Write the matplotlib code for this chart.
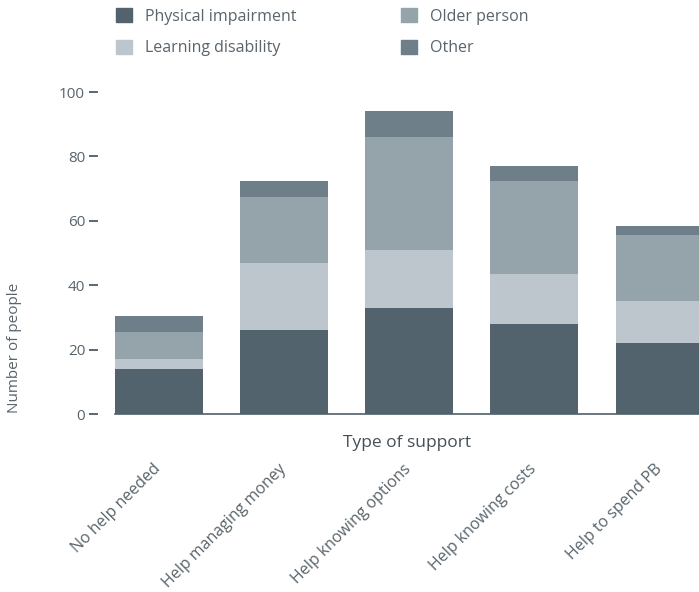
import numpy as np
import matplotlib
matplotlib.use("Agg")
import matplotlib.pyplot as plt
from matplotlib.patches import Patch

plt.rcParams['font.family'] = ['Open Sans', 'DejaVu Sans']

# data
support_types = ['No help needed', 'Help managing money', 'Help knowing options',
                 'Help knowing costs', 'Help to spend PB']
physical_impairment = [14, 26, 33, 28, 22]
learning_disability = [3, 21, 18, 15.5, 13]
older_person = [8.5, 20.5, 35, 29, 20.5]
other = [5, 5, 8, 4.5, 3]

series = [('Physical impairment', physical_impairment, '#52636e'),
          ('Learning disability', learning_disability, '#bcc6cc'),
          ('Older person', older_person, '#95a3ab'),
          ('Other', other, '#6f7f89')]

text_col = '#59646b'

fig = plt.figure(figsize=(6.99, 5.92), dpi=100)
ax = fig.add_axes([115 / 699, 178 / 592, 584 / 699, 322 / 592])

x = np.arange(len(support_types))
bottom = np.zeros(len(support_types))
for name, vals, col in series:
    ax.bar(x, vals, width=0.7, bottom=bottom, color=col, label=name, zorder=2)
    bottom += np.array(vals)

ax.set_xlim(-0.35, 4.316)
ax.set_ylim(0, 100)
ax.set_yticks([0, 20, 40, 60, 80, 100])

for s in ['top', 'right']:
    ax.spines[s].set_visible(False)
ax.spines['left'].set_position(('outward', 12))
ax.spines['left'].set_color('none')
ax.spines['bottom'].set_color('#52606a')
ax.spines['bottom'].set_linewidth(1.2)
ax.spines['bottom'].set_zorder(3)

ax.tick_params(axis='y', length=6.5, width=1.3, color='#4f5b63', pad=3,
               labelsize=11, labelcolor=text_col)
ax.set_xticks(x)
ax.set_xticklabels(support_types, rotation=45, ha='right', va='center',
                   rotation_mode='anchor', fontsize=11.5, color=text_col)
ax.tick_params(axis='x', length=0, pad=38)

ax.set_xlabel('Type of support', fontsize=12.5, color='#444f57', fontweight='medium')
ax.xaxis.set_label_coords(0.5, -0.065)
ax.set_ylabel('Number of people', fontsize=11, color=text_col)
ax.yaxis.set_label_coords(-0.16, 0.205)

handles = [Patch(color=col, label=name) for name, vals, col in series]
leg_kw = dict(frameon=False, fontsize=11.5, handlelength=1.0, handleheight=1.0,
              handletextpad=0.8, labelspacing=0.95, borderpad=0, borderaxespad=0,
              loc='upper left', labelcolor=text_col)
fig.legend(handles=handles[:2], bbox_to_anchor=(116 / 699, 1 - 8 / 592), **leg_kw)
fig.legend(handles=handles[2:], bbox_to_anchor=(401 / 699, 1 - 8 / 592), **leg_kw)

fig.savefig('out.png', dpi=100)
